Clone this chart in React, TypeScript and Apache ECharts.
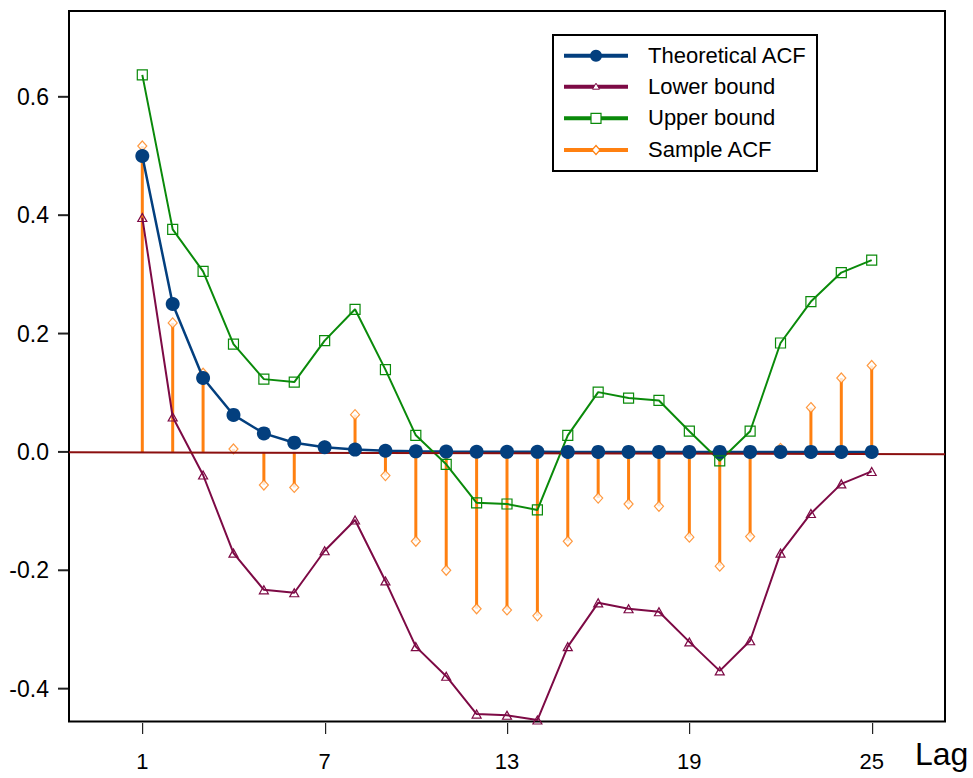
import React, { useEffect, useRef } from "react";
import * as echarts from "echarts";

const lags = [1, 2, 3, 4, 5, 6, 7, 8, 9, 10, 11, 12, 13, 14, 15, 16, 17, 18, 19, 20, 21, 22, 23, 24, 25];
const theoreticalAcf = [0.5, 0.25, 0.125, 0.0625, 0.0313, 0.0156, 0.0078, 0.0039, 0.002, 0.001, 0.0005, 0.0002, 0.0001, 0.0001, 0, 0, 0, 0, 0, 0, 0, 0, 0, 0, 0];
const lowerBound = [0.396, 0.059, -0.039, -0.171, -0.233, -0.238, -0.167, -0.115, -0.218, -0.329, -0.379, -0.443, -0.445, -0.453, -0.329, -0.255, -0.265, -0.27, -0.321, -0.37, -0.319, -0.171, -0.104, -0.054, -0.033];
const upperBound = [0.637, 0.376, 0.305, 0.182, 0.123, 0.118, 0.188, 0.241, 0.139, 0.028, -0.021, -0.086, -0.088, -0.098, 0.028, 0.101, 0.091, 0.087, 0.035, -0.015, 0.035, 0.184, 0.254, 0.303, 0.324];
const sampleAcf = [0.517, 0.218, 0.133, 0.005, -0.056, -0.06, 0.01, 0.063, -0.04, -0.151, -0.2, -0.265, -0.267, -0.277, -0.151, -0.078, -0.088, -0.092, -0.144, -0.193, -0.143, 0.006, 0.075, 0.125, 0.146];
const zeroLine = [[-1.412, -0.0005], [27.412, -0.004]];
const xTicks = [1, 7, 13, 19, 25];
const yTicks = [-0.4, -0.2, 0, 0.2, 0.4, 0.6];
const seriesNames = ["Theoretical ACF", "Lower bound", "Upper bound", "Sample ACF"];
const xLabel = "Lag";

const BLUE = "#033f7e";
const PURPLE = "#7d0a45";
const GREEN = "#0a8a0a";
const ORANGE = "#ff8010";
const RED = "#8b0f0f";
const FONT = "Liberation Sans";
const X_MIN = -1.412;
const X_MAX = 27.412;
const Y_MIN = -0.4555;
const Y_MAX = 0.745;

const pairs = (ys: number[]) => ys.map((y, i) => [lags[i], y]);

export default function App() {
  const ref = useRef<HTMLDivElement>(null);
  useEffect(() => {
    if (!ref.current) return;
    const chart = echarts.init(ref.current, null, { renderer: "svg" });
    const legendX = 553;
    const legendY = 35;
    const rowY = [55.7, 86.7, 118.3, 150];
    const symX = 596;
    const legendEls: any[] = [
      {
        type: "rect",
        shape: { x: legendX, y: legendY, width: 264, height: 136 },
        style: { fill: "#fff", stroke: "#000", lineWidth: 2 },
        z: 10,
      },
    ];
    const colors = [BLUE, PURPLE, GREEN, ORANGE];
    seriesNames.forEach((name, i) => {
      const cy = rowY[i];
      legendEls.push({
        type: "line",
        shape: { x1: 564, y1: cy, x2: 628, y2: cy },
        style: { stroke: colors[i], lineWidth: 4 },
        z: 11,
      });
      legendEls.push({
        type: "text",
        x: 648,
        y: cy - 0.5,
        style: {
          text: name,
          fill: "#000",
          fontSize: 22,
          fontFamily: FONT,
          verticalAlign: "middle",
          align: "left",
        },
        z: 11,
      });
    });
    legendEls.push({
      type: "circle",
      shape: { cx: symX, cy: rowY[0], r: 6 },
      style: { fill: BLUE },
      z: 12,
    });
    legendEls.push({
      type: "polygon",
      shape: { points: [[symX, rowY[1] - 3.5], [symX + 3.5, rowY[1] + 2.5], [symX - 3.5, rowY[1] + 2.5]] },
      style: { fill: "#fff", stroke: PURPLE, lineWidth: 1 },
      z: 12,
    });
    legendEls.push({
      type: "rect",
      shape: { x: symX - 5, y: rowY[2] - 5, width: 10, height: 10 },
      style: { fill: "#fff", stroke: GREEN, lineWidth: 1.2 },
      z: 12,
    });
    legendEls.push({
      type: "polygon",
      shape: { points: [[symX, rowY[3] - 4.5], [symX + 4, rowY[3]], [symX, rowY[3] + 4.5], [symX - 4, rowY[3]]] },
      style: { fill: "#fff", stroke: ORANGE, lineWidth: 1.2 },
      z: 12,
    });
    legendEls.push({
      type: "text",
      x: 915,
      y: 754,
      style: {
        text: xLabel,
        fill: "#000",
        fontSize: 32,
        fontFamily: FONT,
        verticalAlign: "middle",
        align: "left",
      },
    });

    chart.setOption({
      animation: false,
      backgroundColor: "#fff",
      grid: {
        left: 69,
        right: 28,
        top: 11,
        bottom: 56.5,
        show: true,
        borderColor: "#000",
        borderWidth: 2,
        backgroundColor: "transparent",
      },
      xAxis: {
        type: "value",
        position: "bottom",
        min: X_MIN,
        max: X_MAX,
        axisLine: { show: false, onZero: false },
        splitLine: { show: false },
        axisTick: { show: false },
        axisLabel: {
          customValues: xTicks,
          margin: 29,
          fontSize: 22,
          fontFamily: FONT,
          color: "#000",
          formatter: (v: number) => String(Math.round(v)),
        },
      },
      yAxis: {
        type: "value",
        position: "left",
        min: Y_MIN,
        max: Y_MAX,
        axisLine: { show: false, onZero: false },
        splitLine: { show: false },
        axisTick: { show: false },
        axisLabel: {
          customValues: yTicks,
          margin: 20,
          fontSize: 23,
          fontFamily: FONT,
          color: "#000",
          formatter: (v: number) => (Math.abs(v) < 1e-9 ? "0.0" : v.toFixed(1)),
        },
      },
      series: [
        {
          name: seriesNames[0],
          type: "line",
          data: pairs(theoreticalAcf),
          symbol: "circle",
          symbolSize: 14,
          itemStyle: { color: BLUE },
          lineStyle: { color: BLUE, width: 2.5 },
        },
        {
          name: seriesNames[1],
          type: "line",
          data: pairs(lowerBound),
          symbol: "triangle",
          symbolSize: [9, 8],
          itemStyle: { color: "rgba(255,255,255,0)", borderColor: PURPLE, borderWidth: 1.2 },
          lineStyle: { color: PURPLE, width: 2 },
        },
        {
          name: seriesNames[2],
          type: "line",
          data: pairs(upperBound),
          symbol: "rect",
          symbolSize: 10,
          itemStyle: { color: "rgba(255,255,255,0)", borderColor: GREEN, borderWidth: 1.2 },
          lineStyle: { color: GREEN, width: 2 },
        },
        {
          name: "stems",
          type: "bar",
          data: pairs(sampleAcf),
          barWidth: 3,
          itemStyle: { color: ORANGE },
        },
        {
          name: seriesNames[3],
          type: "scatter",
          data: pairs(sampleAcf),
          symbol: "diamond",
          symbolSize: [9, 10],
          itemStyle: { color: "#fff", borderColor: ORANGE, borderWidth: 1.2 },
        },
        {
          name: "zero",
          type: "line",
          data: zeroLine,
          symbol: "none",
          lineStyle: { color: RED, width: 2 },
          silent: true,
        },
      ],
      graphic: { elements: legendEls },
    });

    // axis ticks placed through the chart's own scales
    const tickEls: any[] = [];
    const corner = chart.convertToPixel({ gridIndex: 0 }, [X_MIN, Y_MIN]) as number[];
    const leftX = Math.round(corner[0]);
    const bottomY = Math.round(corner[1]);
    xTicks.forEach((t) => {
      const p = chart.convertToPixel({ gridIndex: 0 }, [t, Y_MIN]) as number[];
      const x = Math.round(p[0]);
      tickEls.push({
        type: "rect",
        shape: { x: x, y: bottomY + 1, width: 1.2, height: 11 },
        style: { fill: "#222" },
        z: 20,
      });
    });
    yTicks.forEach((t) => {
      const py = chart.convertToPixel({ yAxisIndex: 0 }, t) as number;
      tickEls.push({
        type: "rect",
        shape: { x: leftX - 11, y: py - 1, width: 10, height: 2 },
        style: { fill: "#222" },
        z: 20,
      });
    });
    chart.setOption({ graphic: { elements: [...legendEls, ...tickEls] } });

    return () => chart.dispose();
  }, []);
  return (
    <div
      ref={ref}
      style={{ position: "absolute", left: 0, top: 0, width: 973, height: 778 }}
    />
  );
}
